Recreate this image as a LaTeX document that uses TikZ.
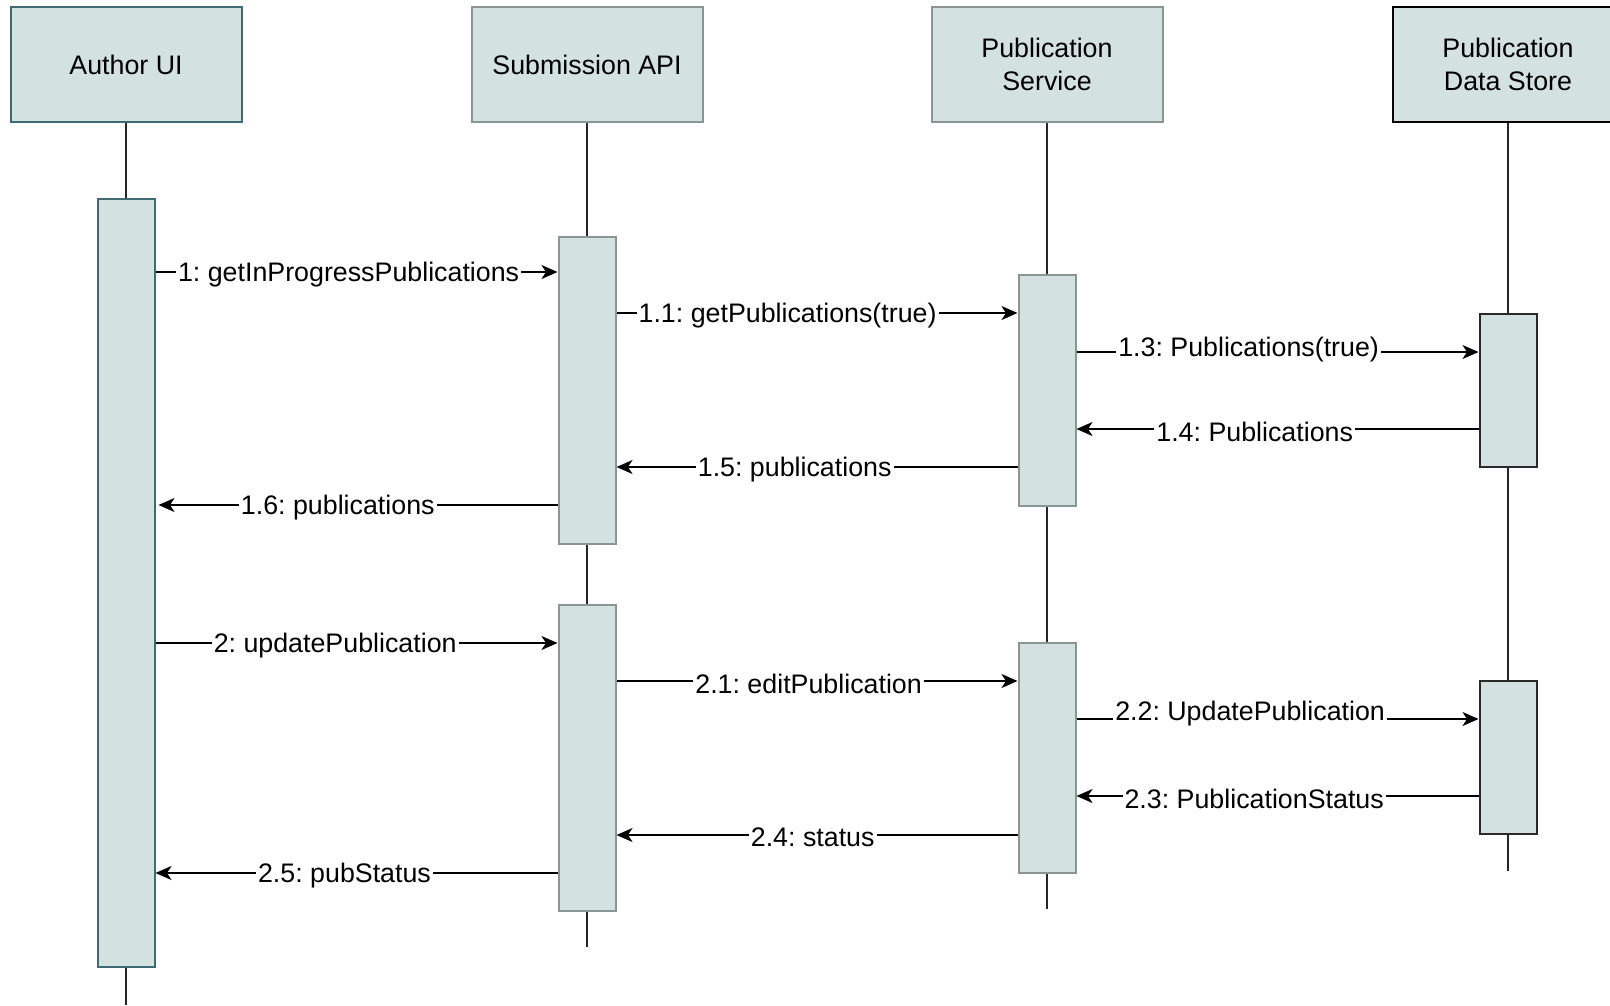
\documentclass[tikz,border=0pt]{standalone}
\usepackage{fontspec}
\setmainfont{Liberation Sans}
\usetikzlibrary{arrows.meta}
\definecolor{boxfill}{HTML}{D3E1E1}
\definecolor{tealb}{HTML}{3E6B74}
\definecolor{grayb}{HTML}{8A9696}
\definecolor{darkb}{HTML}{2A2A2A}
\frenchspacing
\begin{document}
\begin{tikzpicture}[x=1pt,y=-1pt,
  hdr/.style={draw, fill=boxfill, line width=2pt, minimum width=231pt, minimum height=115pt, align=center, font=\fontsize{26.8}{33}\selectfont, inner sep=0pt},
  act/.style={draw, fill=boxfill, line width=2pt, minimum width=57pt, inner sep=0pt},
  life/.style={line width=2pt, draw=black!85},
  msg/.style={line width=1.8pt, -{Stealth[length=16pt,width=14pt,inset=4.5pt]}},
  lbl/.style={fill=white, inner xsep=2pt, inner ysep=1pt, font=\fontsize{26.8}{33}\selectfont}
]
\useasboundingbox (0,0) rectangle (1610,1005);
\fill[white] (0,0) rectangle (1610,1005);

% headers
\node[hdr, draw=tealb] (hAU) at (126,64.5) {Author UI};
\node[hdr, draw=grayb] (hSA) at (587,64.5) {Submission API};
\node[hdr, draw=grayb] (hPS) at (1047,64.5) {Publication\\Service};
\node[hdr, draw=black] (hDS) at (1508,64.5) {Publication\\Data Store};

% lifeline ends
\coordinate (eAU) at (126,1005);
\coordinate (eSA) at (587,947);
\coordinate (ePS) at (1047,909);
\coordinate (eDS) at (1508,871);

\draw[life] (hAU.south) -- (eAU);
\draw[life] (hSA.south) -- (eSA);
\draw[life] (hPS.south) -- (ePS);
\draw[life] (hDS.south) -- (eDS);

% activations
\node[act, draw=tealb, minimum height=768.5pt] (aAU) at (126,582.75) {};
\node[act, draw=grayb, minimum height=306.7pt] (aS1) at (587,390.7) {};
\node[act, draw=grayb, minimum height=306pt] (aS2) at (587,758) {};
\node[act, draw=grayb, minimum height=231pt] (aP1) at (1047,390.5) {};
\node[act, draw=grayb, minimum height=230pt] (aP2) at (1047,758) {};
\node[act, draw=darkb, minimum height=153pt] (aD1) at (1508,390.5) {};
\node[act, draw=darkb, minimum height=153pt] (aD2) at (1508,757.5) {};

% message rows
\coordinate (m1) at (0,272);
\coordinate (m11) at (0,313);
\coordinate (m13) at (0,352);
\coordinate (m14) at (0,429);
\coordinate (m15) at (0,467);
\coordinate (m16) at (0,505);
\coordinate (m2) at (0,643);
\coordinate (m21) at (0,681);
\coordinate (m22) at (0,719);
\coordinate (m23) at (0,796);
\coordinate (m24) at (0,835);
\coordinate (m25) at (0,873);

\draw[msg] (aAU.east |- m1) -- (aS1.west |- m1);
\draw[msg] (aS1.east |- m11) -- (aP1.west |- m11);
\draw[msg] (aP1.east |- m13) -- (aD1.west |- m13);
\draw[msg] (aD1.west |- m14) -- (aP1.east |- m14);
\draw[msg] (aP1.west |- m15) -- (aS1.east |- m15);
\draw[msg, shorten >=3pt] (aS1.west |- m16) -- (aAU.east |- m16);
\draw[msg] (aAU.east |- m2) -- (aS2.west |- m2);
\draw[msg] (aS2.east |- m21) -- (aP2.west |- m21);
\draw[msg] (aP2.east |- m22) -- (aD2.west |- m22);
\draw[msg] (aD2.west |- m23) -- (aP2.east |- m23);
\draw[msg] (aP2.west |- m24) -- (aS2.east |- m24);
\draw[msg] (aS2.west |- m25) -- (aAU.east |- m25);

% labels
\node[lbl] (l1) at (348.6,274.5) {1: getInProgressPublications};
\node[lbl] (l11) at (787.6,315.5) {1.1: getPublications(true)};
\node[lbl] (l13) at (1248.6,350) {1.3: Publications(true)};
\node[lbl] (l14) at (1254.7,431.5) {1.4: Publications};
\node[lbl] (l15) at (794.7,469.5) {1.5: publications};
\node[lbl] (l16) at (337.8,507.5) {1.6: publications};
\node[lbl] (l2) at (335.2,645.5) {2: updatePublication};
\node[lbl] (l21) at (808.6,683.5) {2.1: editPublication};
\node[lbl] (l22) at (1250.1,714) {2.2: UpdatePublication};
\node[lbl] (l23) at (1254.2,798.5) {2.3: PublicationStatus};
\node[lbl] (l24) at (812.7,837.5) {2.4: status};
\node[lbl] (l25) at (344.5,875.5) {2.5: pubStatus};
\end{tikzpicture}
\end{document}
